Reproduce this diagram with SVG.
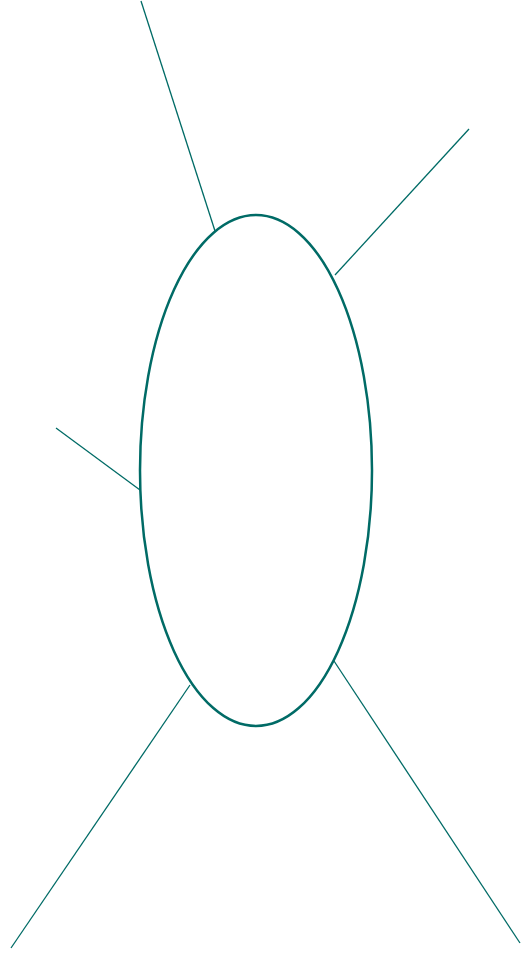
<svg xmlns="http://www.w3.org/2000/svg" width="521" height="953" viewBox="0 0 521 953">
<style>
.edge{stroke:#006b66;stroke-width:1.3;fill:none}
.node{stroke:#006b66;stroke-width:2.5;fill:#ffffff}
</style>
<rect width="521" height="953" fill="#ffffff"/>
<g id="connectors">
<line class="edge" x1="141" y1="1" x2="215" y2="231"/>
<line class="edge" x1="469" y1="129" x2="335" y2="275"/>
<line class="edge" x1="56" y1="428" x2="140" y2="490"/>
<line class="edge" x1="11" y1="948" x2="190" y2="685"/>
<line class="edge" x1="520" y1="943" x2="334" y2="661"/>
</g>
<g id="center">
<ellipse class="node" cx="256" cy="470.5" rx="116" ry="255.5"/>
</g>
</svg>
